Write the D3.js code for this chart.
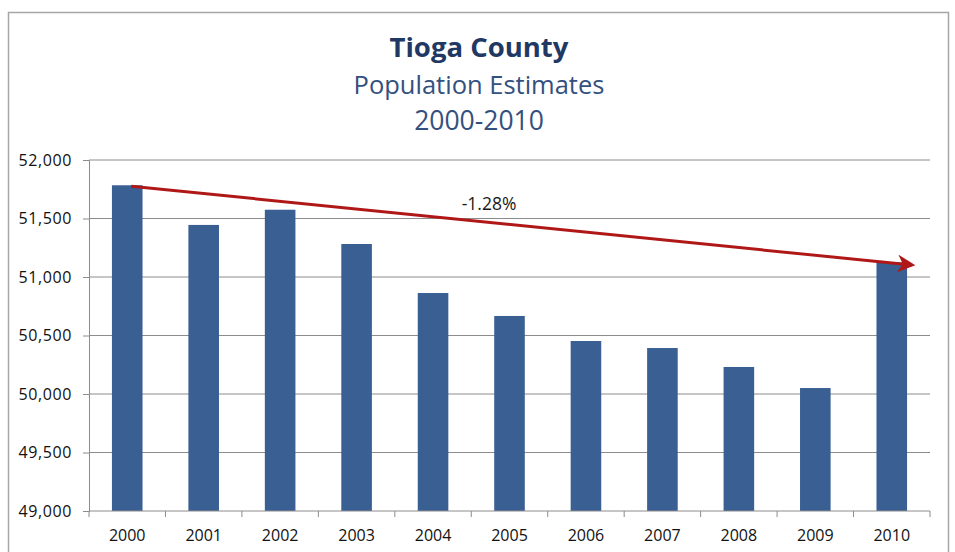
<!DOCTYPE html>
<html>
<head>
<meta charset="utf-8">
<script src="https://cdn.jsdelivr.net/npm/d3@7"></script>
<style>
  body { margin: 0; background: #fff; }
  text { font-family: "Open Sans", Lato, sans-serif; }
</style>
</head>
<body>
<div id="chart"></div>
<script>
const years = ["2000", "2001", "2002", "2003", "2004", "2005", "2006", "2007", "2008", "2009", "2010"];
const population = [51784, 51445, 51575, 51282, 50863, 50667, 50453, 50393, 50231, 50051, 51125];
const yTicks = [49000, 49500, 50000, 50500, 51000, 51500, 52000];
const changeLabel = "-1.28%";

const W = 955, H = 552;
const margin = { top: 160, right: 25, bottom: 41, left: 89 };
const width = 930 - margin.left;
const height = 511 - margin.top;

const svg = d3.select("#chart").append("svg")
    .attr("width", W)
    .attr("height", H);

svg.append("rect")
    .attr("x", 8.5).attr("y", 12.5)
    .attr("width", 940).attr("height", 560)
    .attr("fill", "#fff")
    .attr("stroke", "#a6a6a6")
    .attr("stroke-width", 1.5);

// titles
const titles = svg.append("g").attr("text-anchor", "middle");
titles.append("text").attr("x", 479).attr("y", 57)
    .attr("font-size", 27.5).attr("font-weight", "bold").attr("fill", "#1f3864")
    .text("Tioga County");
titles.append("text").attr("x", 479).attr("y", 94)
    .attr("font-size", 25.5).attr("fill", "#34507e")
    .text("Population Estimates");
titles.append("text").attr("x", 479).attr("y", 130)
    .attr("font-size", 26.5).attr("fill", "#34507e")
    .text("2000-2010");

const g = svg.append("g").attr("transform", `translate(${margin.left},${margin.top})`);

const x = d3.scaleBand().domain(years).range([0, width]).paddingInner(0.6).paddingOuter(0.3);
const y = d3.scaleLinear().domain([49000, 52000]).range([height, 0]);

// gridlines
g.append("g").selectAll("line")
    .data(yTicks.slice(1))
    .enter().append("line")
    .attr("x1", 0).attr("x2", width)
    .attr("y1", d => y(d)).attr("y2", d => y(d))
    .attr("stroke", "#8c8c8c")
    .attr("stroke-width", 1);

// bars
g.selectAll(".bar")
    .data(population)
    .enter().append("rect")
    .attr("class", "bar")
    .attr("x", (d, i) => x(years[i]))
    .attr("y", d => y(d))
    .attr("width", x.bandwidth())
    .attr("height", d => height - y(d))
    .attr("fill", "#3a5f93");

// y axis
const yAxis = d3.axisLeft(y).tickValues(yTicks).tickSize(6).tickPadding(11)
    .tickFormat(d3.format(","));
const yg = g.append("g").attr("class", "y-axis").call(yAxis);
yg.select(".domain").attr("stroke", "#8c8c8c");
yg.selectAll(".tick line").attr("stroke", "#8c8c8c");
yg.selectAll("text").attr("font-size", 16).attr("fill", "#111")
    .attr("font-family", "'Open Sans', Lato, sans-serif").attr("font-weight", 500)
    .attr("letter-spacing", 0.6);

// x axis
const step = x.step();
const xg = g.append("g").attr("class", "x-axis").attr("transform", `translate(0,${height})`);
xg.append("line").attr("x1", 0).attr("x2", width).attr("y1", 0).attr("y2", 0)
    .attr("stroke", "#8c8c8c");
xg.selectAll(".xtick")
    .data(d3.range(years.length + 1))
    .enter().append("line")
    .attr("x1", i => i * step).attr("x2", i => i * step)
    .attr("y1", 0).attr("y2", 6)
    .attr("stroke", "#8c8c8c");
xg.selectAll(".xlabel")
    .data(years)
    .enter().append("text")
    .attr("x", d => x(d) + x.bandwidth() / 2)
    .attr("y", 30)
    .attr("text-anchor", "middle")
    .attr("font-size", 16).attr("font-weight", 500).attr("fill", "#111")
    .text(d => d);

// trend arrow
svg.append("defs").append("marker")
    .attr("id", "arrow")
    .attr("viewBox", "0 0 10 10")
    .attr("refX", 8).attr("refY", 5)
    .attr("markerWidth", 6).attr("markerHeight", 6)
    .attr("markerUnits", "strokeWidth")
    .attr("orient", "auto")
    .append("path")
    .attr("d", "M0,0 L10,5 L0,10 L3,5 Z")
    .attr("fill", "#b01818");

const x0 = x(years[0]) + x.bandwidth() / 2 + 4;
const x1 = x(years[years.length - 1]) + x.bandwidth() / 2 + 20;
const y0 = y(population[0]) + 1;
const slope = (y(population[population.length - 1]) - y(population[0])) / (x(years[years.length - 1]) - x(years[0]));
const y1 = y0 + slope * (x1 - x0);

g.append("line")
    .attr("x1", x0).attr("y1", y0)
    .attr("x2", x1).attr("y2", y1)
    .attr("stroke", "#b01818")
    .attr("stroke-width", 3)
    .attr("marker-end", "url(#arrow)");

g.append("text")
    .attr("x", 400).attr("y", 50)
    .attr("text-anchor", "middle")
    .attr("font-size", 17.5).attr("fill", "#1a1a1a")
    .text(changeLabel);
</script>
</body>
</html>
